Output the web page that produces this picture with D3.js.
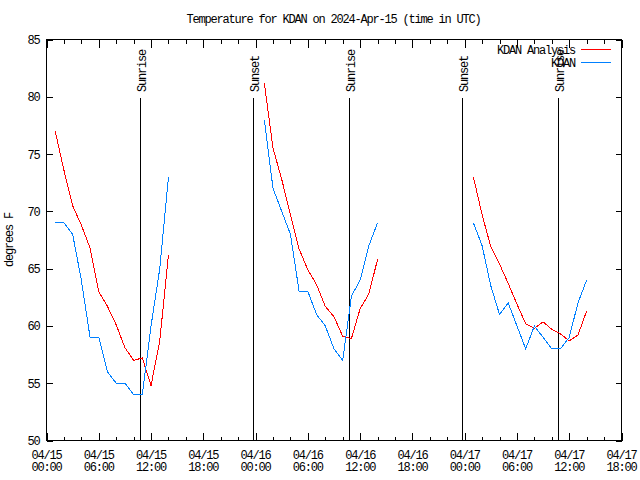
<!DOCTYPE html>
<html><head><meta charset="utf-8">
<script src="https://cdn.jsdelivr.net/npm/d3@7"></script>
<style>
body{margin:0;background:#fff}
svg text{font-family:"Liberation Mono",monospace;font-size:12px;letter-spacing:-1.2px;fill:#000}
</style></head><body>
<svg id="c" width="640" height="480"></svg>
<script>
const title = "Temperature for KDAN on 2024-Apr-15 (time in UTC)";
const yLabel = "degrees F";
const xStart = "2024-04-15T00:00:00Z";
const xEnd = "2024-04-17T18:00:00Z";
const yTicks = [50, 55, 60, 65, 70, 75, 80, 85];
const days = ["2024-04-15", "2024-04-16", "2024-04-17"];
const readingHours = [1, 2, 3, 4, 5, 6, 7, 8, 9, 10, 11, 12, 13, 14];
const seriesNames = ["KDAN Analysis", "KDAN"];
const analysisDay1 = [77.0, 73.6, 70.5, 68.8, 66.8, 63.0, 61.7, 60.1, 58.1, 57.0, 57.2, 54.8, 58.7, 66.2];
const analysisDay2 = [81.2, 75.5, 72.8, 69.7, 66.7, 64.9, 63.6, 61.7, 60.8, 59.1, 58.9, 61.5, 62.8, 65.8];
const analysisDay3 = [73.0, 69.7, 66.9, 65.4, 63.7, 61.9, 60.2, 59.8, 60.35, 59.7, 59.3, 58.7, 59.2, 61.3];
const kdanDay1 = [69, 69, 68, 64, 59, 59, 56, 55, 55, 54, 54, 60, 65, 73];
const kdanDay2 = [78, 72, 70, 68, 63, 63, 61, 60, 58, 57, 62.6, 64, 67, 69];
const kdanDay3 = [69, 67, 63.5, 61, 62, 60, 58, 60, 59, 58, 58, 59, 62, 64];
const sunLabels = ["Sunrise", "Sunset", "Sunrise", "Sunset", "Sunrise"];
const sunTimes = ["2024-04-15T10:46:00Z", "2024-04-15T23:47:00Z", "2024-04-16T10:45:00Z", "2024-04-16T23:45:00Z", "2024-04-17T10:47:00Z"];

const svg = d3.select("#c");
const L = 46.5, R = 621.5, T = 39.5, B = 440.5;
const x = d3.scaleUtc().domain([new Date(xStart), new Date(xEnd)]).range([L, R]);
const y = d3.scaleLinear().domain([50, 85]).range([B, T]);

svg.append("rect").attr("width", 640).attr("height", 480).attr("fill", "#fff");

const majors = d3.utcHour.every(6).range(new Date(xStart), new Date(+new Date(xEnd) + 1));
const minors = d3.utcHour.every(2).range(new Date(xStart), new Date(+new Date(xEnd) + 1))
  .filter(d => d.getUTCHours() % 6 !== 0);

function clean(g){ g.select(".domain").remove(); g.selectAll("line").attr("stroke", "#000").attr("shape-rendering", "crispEdges"); }

svg.append("g").attr("transform", `translate(0,${B})`)
  .call(d3.axisBottom(x).tickValues(majors).tickSize(-8).tickFormat(""))
  .call(clean).selectAll("text").remove();
svg.append("g").attr("transform", `translate(0,${B})`)
  .call(d3.axisBottom(x).tickValues(minors).tickSize(-4).tickFormat(""))
  .call(clean).selectAll("text").remove();
svg.append("g").attr("transform", `translate(0,${T})`)
  .call(d3.axisTop(x).tickValues(majors).tickSize(-8).tickFormat(""))
  .call(clean).selectAll("text").remove();
svg.append("g").attr("transform", `translate(0,${T})`)
  .call(d3.axisTop(x).tickValues(minors).tickSize(-4).tickFormat(""))
  .call(clean).selectAll("text").remove();

// x labels (two lines)
const fmtDay = d3.utcFormat("%m/%d"), fmtTime = d3.utcFormat("%H:%M");
const xl = svg.append("g").selectAll("text").data(majors).join("text")
  .attr("text-anchor", "middle").attr("transform", d => `translate(${x(d)},0)`);
xl.append("tspan").attr("x", 0).attr("y", 458.5).text(d => fmtDay(d));
xl.append("tspan").attr("x", 0).attr("y", 471).text(d => fmtTime(d));

const gy = svg.append("g").attr("transform", `translate(${L},0)`)
  .call(d3.axisLeft(y).tickValues(yTicks).tickSize(-6).tickPadding(7).tickFormat(d3.format("d")))
  .call(clean);
gy.selectAll("text").attr("dy", "0.33em");
svg.append("g").attr("transform", `translate(${R},0)`)
  .call(d3.axisRight(y).tickValues(yTicks).tickSize(-6).tickFormat(""))
  .call(clean).selectAll("text").remove();
svg.selectAll("g").attr("font-family", null).attr("font-size", null);

// border
svg.append("rect").attr("x", L).attr("y", T).attr("width", R - L).attr("height", B - T)
  .attr("fill", "none").attr("stroke", "#000").attr("shape-rendering", "crispEdges");

// title and y label
svg.append("text").attr("x", 333.5).attr("y", 23).attr("text-anchor", "middle").text(title);
svg.append("text").attr("transform", "translate(13,240) rotate(-90)").attr("text-anchor", "middle").text(yLabel);

// sunrise / sunset markers
const sun = sunTimes.map((t, i) => ({ t: new Date(t), label: sunLabels[i] }));
svg.append("g").selectAll("line").data(sun).join("line")
  .attr("x1", d => Math.floor(x(d.t)) + 0.5).attr("x2", d => Math.floor(x(d.t)) + 0.5)
  .attr("y1", B).attr("y2", 98).attr("stroke", "#000").attr("shape-rendering", "crispEdges");
svg.append("g").selectAll("text").data(sun).join("text")
  .attr("transform", d => `translate(${Math.floor(x(d.t)) + 6},92) rotate(-90)`)
  .attr("text-anchor", "start").text(d => d.label);

// series
function pts(vals, di){
  return readingHours.map((h, i) => ({ t: new Date(`${days[di]}T${String(h).padStart(2, "0")}:00:00Z`), v: vals[i] }));
}
const analysis = [analysisDay1, analysisDay2, analysisDay3];
const kdan = [kdanDay1, kdanDay2, kdanDay3];
const line = d3.line().x(d => x(d.t)).y(d => y(d.v));
const colors = ["#ff0000", "#0080ff"];
[analysis, kdan].forEach((ser, si) => {
  ser.forEach((vals, di) => {
    svg.append("path").datum(pts(vals, di)).attr("d", line)
      .attr("fill", "none").attr("stroke", colors[si]).attr("stroke-width", 1)
      .attr("shape-rendering", "crispEdges");
  });
});

// legend
const leg = svg.append("g");
seriesNames.forEach((n, i) => {
  const ly = 49.5 + i * 13;
  leg.append("text").attr("x", 575).attr("y", ly + 4).attr("text-anchor", "end").text(n);
  leg.append("line").attr("x1", 581).attr("x2", 611).attr("y1", ly).attr("y2", ly)
    .attr("stroke", colors[i]).attr("shape-rendering", "crispEdges");
});
</script>
</body></html>
